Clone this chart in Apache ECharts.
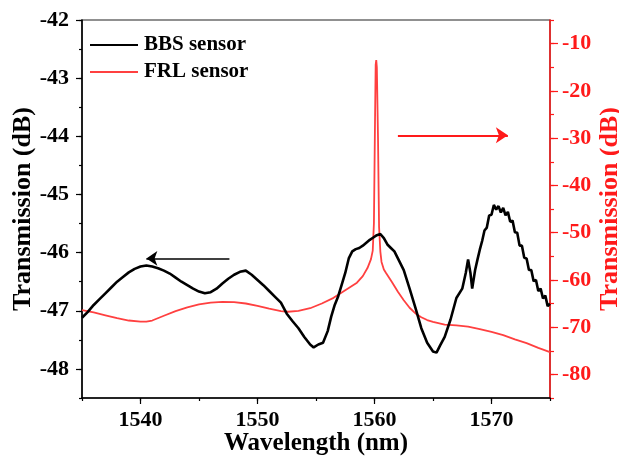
<!DOCTYPE html>
<html>
<head>
<meta charset="utf-8">
<script src="https://cdn.jsdelivr.net/npm/echarts@6/dist/echarts.min.js"></script>
<style>
  html, body { margin: 0; padding: 0; background: #fff; }
  #chart { width: 619px; height: 457px; }
</style>
</head>
<body>
<div id="chart"></div>
<script>
// BBS sensor transmission spectrum: [wavelength (nm), transmission (dB)], left axis
const bbsSpectrum = [
  [1535.0, -47.12], [1535.5, -47.02], [1536.0, -46.90], [1536.5, -46.80], [1537.0, -46.70],
  [1537.5, -46.60], [1538.0, -46.50], [1538.5, -46.42], [1539.0, -46.34], [1539.5, -46.28],
  [1540.0, -46.24], [1540.5, -46.22], [1541.0, -46.24], [1541.5, -46.27], [1542.0, -46.31],
  [1542.5, -46.36], [1543.0, -46.43], [1543.5, -46.50], [1544.0, -46.56], [1544.5, -46.62],
  [1545.0, -46.67], [1545.5, -46.70], [1546.0, -46.68], [1546.5, -46.62], [1547.0, -46.53],
  [1547.5, -46.45], [1548.0, -46.38], [1548.5, -46.33], [1549.0, -46.31], [1549.5, -46.38],
  [1550.0, -46.47], [1550.5, -46.56], [1551.0, -46.66], [1551.5, -46.76], [1552.0, -46.86],
  [1552.5, -47.05], [1553.0, -47.18], [1553.5, -47.30], [1554.0, -47.45], [1554.5, -47.58],
  [1554.8, -47.63], [1555.2, -47.58], [1555.6, -47.55], [1556.0, -47.35], [1556.3, -47.10],
  [1556.6, -46.90], [1556.9, -46.75], [1557.2, -46.55], [1557.5, -46.35], [1557.8, -46.10],
  [1558.1, -45.98], [1558.4, -45.94], [1558.7, -45.92], [1559.0, -45.88], [1559.3, -45.83],
  [1559.6, -45.78], [1559.9, -45.74], [1560.2, -45.70], [1560.5, -45.68], [1560.8, -45.75],
  [1561.1, -45.86], [1561.4, -45.92], [1561.7, -45.98], [1562.0, -46.10], [1562.5, -46.30],
  [1563.0, -46.62], [1563.5, -46.95], [1564.0, -47.30], [1564.5, -47.55], [1565.0, -47.70],
  [1565.3, -47.72], [1565.6, -47.60], [1566.0, -47.45], [1566.5, -47.15], [1567.0, -46.78],
  [1567.5, -46.62], [1567.8, -46.35], [1568.0, -46.12], [1568.2, -46.35], [1568.35, -46.62],
  [1568.6, -46.30], [1568.8, -46.12], [1569.0, -45.95], [1569.2, -45.80],
  [1569.4, -45.62], [1569.6, -45.57], [1569.8, -45.36], [1570.0, -45.35], [1570.2, -45.18],
  [1570.4, -45.26], [1570.6, -45.20], [1570.8, -45.31], [1571.0, -45.23], [1571.2, -45.36],
  [1571.4, -45.30], [1571.6, -45.47], [1571.8, -45.45], [1572.0, -45.65], [1572.2, -45.66],
  [1572.4, -45.88], [1572.6, -45.88], [1572.8, -46.09], [1573.0, -46.10], [1573.2, -46.30],
  [1573.4, -46.30], [1573.6, -46.49], [1573.8, -46.47], [1574.0, -46.66], [1574.2, -46.62],
  [1574.4, -46.79], [1574.6, -46.74], [1574.8, -46.92], [1575.0, -46.88]
];

// FRL sensor output spectrum: [wavelength (nm), transmission (dB)], right axis
const frlSpectrum = [
  [1535.0, -66.4], [1536.0, -66.9], [1537.0, -67.5], [1538.0, -68.1], [1539.0, -68.6],
  [1540.0, -68.85], [1540.5, -68.85], [1541.0, -68.6], [1542.0, -67.6], [1543.0, -66.6],
  [1544.0, -65.8], [1545.0, -65.2], [1546.0, -64.8], [1547.0, -64.65], [1548.0, -64.7],
  [1549.0, -65.0], [1550.0, -65.5], [1551.0, -66.1], [1552.0, -66.6], [1552.6, -66.75],
  [1553.5, -66.55], [1554.5, -66.0], [1555.5, -65.0], [1556.5, -63.8], [1557.5, -62.2],
  [1558.5, -60.6], [1559.0, -59.2], [1559.4, -57.5], [1559.7, -55.6], [1559.85, -53.8],
  [1559.95, -48.0], [1560.05, -25.0], [1560.1, -14.5], [1560.15, -13.5], [1560.2, -15.0],
  [1560.3, -30.0], [1560.39, -48.8], [1560.5, -54.0], [1560.6, -56.2], [1560.8, -57.8],
  [1561.0, -58.6], [1561.5, -60.5], [1562.0, -62.5], [1562.5, -64.3], [1563.0, -65.9],
  [1563.5, -67.1], [1564.0, -67.9], [1564.5, -68.5], [1565.0, -68.9], [1566.0, -69.45],
  [1567.0, -69.65], [1568.0, -69.9], [1569.0, -70.4], [1570.0, -71.0], [1571.0, -71.7],
  [1572.0, -72.6], [1573.0, -73.4], [1574.0, -74.4], [1575.0, -75.3]
];

// Axis ranges and labelled tick values
const wavelengthRange = [1535, 1575];
const wavelengthTicks = [1540, 1550, 1560, 1570];
const bbsRange = [-48.5, -42];
const bbsTicks = [-48, -47, -46, -45, -44, -43, -42];
const frlRange = [-85, -5];
const frlTicks = [-80, -70, -60, -50, -40, -30, -20, -10];

// Direction arrows: [start, end] in data units of each series' axes
const bbsArrow = [[1547.6, -46.10], [1540.5, -46.10]];
const frlArrow = [[1562.0, -29.4], [1571.4, -29.4]];

const FONT = '"Liberation Serif", "Times New Roman", serif';
const RED = '#ff1a1a';
const LINE_RED = '#ff4040';

const chart = echarts.init(document.getElementById('chart'), null, { renderer: 'canvas' });

const tickFont = { fontFamily: FONT, fontWeight: 'bold', fontSize: 22 };
const plain = v => String(v);

chart.setOption({
  animation: false,
  backgroundColor: '#fff',
  grid: {
    left: 82, right: 69, top: 20, bottom: 59,
    outerBoundsMode: 'none', containLabel: false,
    show: true, borderColor: '#222', borderWidth: 1.2, backgroundColor: 'transparent'
  },
  legend: {
    left: 90, top: 34, padding: 0, orient: 'vertical', icon: 'rect', itemWidth: 48, itemHeight: 2, itemGap: 5,
    textStyle: { fontFamily: FONT, fontWeight: 'bold', fontSize: 21, color: '#000', lineHeight: 22, padding: [0, 0, 0, 1] },
    data: ['BBS sensor', 'FRL sensor']
  },
  xAxis: [
    {
      type: 'value', min: wavelengthRange[0], max: wavelengthRange[1], interval: 5,
      name: 'Wavelength (nm)', nameLocation: 'middle', nameGap: 33, nameMoveOverlap: false,
      nameTextStyle: { fontFamily: FONT, fontWeight: 'bold', fontSize: 25, color: '#000' },
      axisLine: { show: true, lineStyle: { color: '#000', width: 1.5 } },
      axisTick: { show: true, length: 3, lineStyle: { color: '#000', width: 1.2 } },
      axisLabel: { show: true, customValues: wavelengthTicks, formatter: plain, margin: 11, color: '#000', ...tickFont },
      splitLine: { show: false }
    },
    {
      type: 'value', min: wavelengthRange[0], max: wavelengthRange[1], position: 'bottom',
      axisLine: { show: false },
      axisTick: { show: true, length: 6, customValues: wavelengthTicks, lineStyle: { color: '#000', width: 1.2 } },
      axisLabel: { show: false },
      splitLine: { show: false }
    }
  ],
  yAxis: [
    {
      type: 'value', min: bbsRange[0], max: bbsRange[1], interval: 0.5, position: 'left',
      name: 'Transmission (dB)', nameLocation: 'middle', nameGap: 46, nameRotate: 90, nameMoveOverlap: false,
      nameTextStyle: { fontFamily: FONT, fontWeight: 'bold', fontSize: 26, color: '#000' },
      axisLine: { show: true, lineStyle: { color: '#000', width: 1.5 } },
      axisTick: { show: true, length: 3, lineStyle: { color: '#000', width: 1.2 } },
      axisLabel: { show: true, customValues: bbsTicks, formatter: plain, margin: 13, color: '#000', ...tickFont },
      splitLine: { show: false }
    },
    {
      type: 'value', min: bbsRange[0], max: bbsRange[1], position: 'left',
      axisLine: { show: false },
      axisTick: { show: true, length: 6, customValues: bbsTicks, lineStyle: { color: '#000', width: 1.2 } },
      axisLabel: { show: false },
      splitLine: { show: false }
    },
    {
      type: 'value', min: frlRange[0], max: frlRange[1], interval: 5, position: 'right',
      name: 'Transmission (dB)', nameLocation: 'middle', nameGap: 47, nameRotate: 90, nameMoveOverlap: false,
      nameTextStyle: { fontFamily: FONT, fontWeight: 'bold', fontSize: 26, color: RED },
      axisLine: { show: true, lineStyle: { color: RED, width: 1.5 } },
      axisTick: { show: true, length: 4, lineStyle: { color: RED, width: 1.2 } },
      axisLabel: { show: true, customValues: frlTicks, formatter: plain, margin: 12, color: RED, ...tickFont },
      splitLine: { show: false }
    },
    {
      type: 'value', min: frlRange[0], max: frlRange[1], position: 'right',
      axisLine: { show: false },
      axisTick: { show: true, length: 8, customValues: frlTicks, lineStyle: { color: RED, width: 1.2 } },
      axisLabel: { show: false },
      splitLine: { show: false }
    }
  ],
  series: [
    {
      name: 'FRL sensor', type: 'line', xAxisIndex: 0, yAxisIndex: 2,
      data: frlSpectrum, showSymbol: false, symbol: 'none', smooth: false,
      lineStyle: { color: LINE_RED, width: 1.8 }, itemStyle: { color: LINE_RED },
      markLine: {
        silent: true, symbol: ['none', 'arrow'], symbolSize: 12,
        label: { show: false },
        lineStyle: { color: RED, width: 2, type: 'solid' },
        data: [[{ coord: frlArrow[0] }, { coord: frlArrow[1] }]]
      },
      z: 2
    },
    {
      name: 'BBS sensor', type: 'line', xAxisIndex: 0, yAxisIndex: 0,
      data: bbsSpectrum, showSymbol: false, symbol: 'none', smooth: false,
      lineStyle: { color: '#000', width: 2.6 }, itemStyle: { color: '#000' },
      markLine: {
        silent: true, symbol: ['none', 'arrow'], symbolSize: 11,
        label: { show: false },
        lineStyle: { color: '#000', width: 1.5, type: 'solid' },
        data: [[{ coord: bbsArrow[0] }, { coord: bbsArrow[1] }]]
      },
      z: 3
    }
  ]
});
</script>
</body>
</html>
